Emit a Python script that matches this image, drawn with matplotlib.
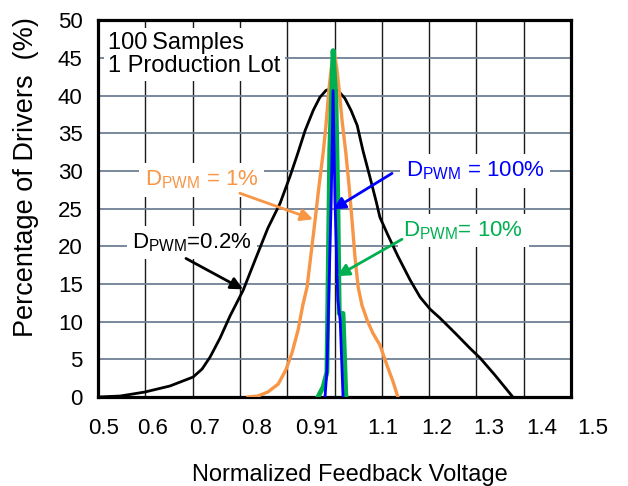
import matplotlib
matplotlib.use('Agg')
import matplotlib.pyplot as plt
import numpy as np
from matplotlib.transforms import blended_transform_factory

plt.rcParams['font.family'] = ['Liberation Sans', 'DejaVu Sans']
plt.rcParams['mathtext.fontset'] = 'custom'
plt.rcParams['mathtext.rm'] = 'Liberation Sans'
plt.rcParams['mathtext.it'] = 'Liberation Sans:italic'
plt.rcParams['mathtext.bf'] = 'Liberation Sans:bold'

# ---------------- data ----------------
x_ticks = [0.5, 0.6, 0.7, 0.8, 0.9, 1.0, 1.1, 1.2, 1.3, 1.4, 1.5]
x_tick_labels = ['0.5', '0.6', '0.7', '0.8', '0.91', '1.1', '1.2', '1.3', '1.4', '1.5']
y_ticks = [0, 5, 10, 15, 20, 25, 30, 35, 40, 45, 50]

d02_x = [0.500, 0.547, 0.599, 0.652, 0.701, 0.720, 0.737, 0.758, 0.779, 0.807, 0.832,
         0.859, 0.885, 0.906, 0.921, 0.938, 0.955, 0.969, 0.982, 0.995, 1.007, 1.022,
         1.035, 1.048, 1.060, 1.075, 1.088, 1.096, 1.113, 1.134, 1.160, 1.181, 1.202,
         1.223, 1.255, 1.286, 1.308, 1.339, 1.377]
d02_y = [0.0, 0.13, 0.66, 1.46, 2.65, 3.71, 5.31, 7.82, 10.74, 14.19, 18.17,
         22.41, 25.73, 29.31, 32.10, 35.41, 38.06, 39.79, 40.72, 40.98, 40.72, 39.66,
         38.06, 36.07, 32.76, 29.18, 25.99, 23.87, 21.49, 18.70, 15.52, 13.26, 11.67,
         10.48, 8.49, 6.50, 5.17, 2.92, 0.0]

d1_x = [0.817, 0.838, 0.859, 0.881, 0.897, 0.910, 0.923, 0.933, 0.942, 0.950, 0.959,
        0.967, 0.976, 0.982, 0.988, 0.993, 0.999, 1.005, 1.010, 1.016, 1.024, 1.031,
        1.037, 1.043, 1.050, 1.058, 1.069, 1.081, 1.096, 1.111, 1.124, 1.134]
d1_y = [0.0, 0.13, 0.66, 1.72, 3.58, 5.84, 8.89, 12.2, 14.6, 18.8, 23.5,
        27.9, 32.4, 36.1, 40.7, 43.6, 46.0, 43.6, 40.7, 36.7, 32.4, 27.9,
        23.5, 18.8, 14.6, 12.2, 10.2, 8.5, 6.9, 4.2, 2.0, 0.0]

d10_x = [0.965, 0.976, 0.984, 0.986, 0.990, 0.995, 0.997, 1.003, 1.007, 1.010, 1.018, 1.024]
d10_y = [0.0, 1.33, 3.3, 12.9, 32.8, 42.0, 46.0, 39.4, 26.1, 11.1, 11.1, 0.0]

d100_x = [0.980, 0.984, 0.993, 0.997, 1.001, 1.007, 1.012, 1.018]
d100_y = [0.0, 3.6, 26.1, 40.7, 26.1, 12.9, 10.2, 0.0]

# ---------------- figure ----------------
fig = plt.figure(figsize=(6.28, 4.86), dpi=100)
ax = fig.add_axes([98/628, 1-397/486, 473/628, 376.5/486])
ax.set_xlim(0.5, 1.5)
ax.set_ylim(0, 50)

ax.set_xticks(x_ticks)
ax.set_xticklabels([])
ax.set_yticks(y_ticks)
ax.set_yticklabels([str(v) for v in y_ticks], fontsize=16)
ax.tick_params(axis='both', length=0)
ax.tick_params(axis='y', pad=11)

ax.grid(axis='x', color='#1a1a1a', lw=1.0, zorder=0)
ax.grid(axis='y', color='#6f7f95', lw=1.3, zorder=0)
ax.set_axisbelow(True)
for s in ax.spines.values():
    s.set_linewidth(2.3)
    s.set_color('black')

# x tick labels (placed as in reference, slightly off the gridlines)
lab_pos = [0.511, 0.616, 0.726, 0.836, 0.963, 1.1025, 1.217, 1.327, 1.439, 1.547]
tr = blended_transform_factory(ax.transData, ax.transAxes)
for p, t in zip(lab_pos, x_tick_labels):
    ax.text(p, -0.083, t, transform=tr, ha='center', va='center', fontsize=16, clip_on=False)

fig.text(350/628, 1-481/486, 'Normalized Feedback Voltage', ha='center', va='baseline', fontsize=17)
fig.text(26/628, 1-177/486, 'Percentage of Drivers  (%)', rotation=90, ha='center', va='center', fontsize=19.5)

# curves
ax.plot(d02_x, d02_y, color='black', lw=2.0, zorder=4)
ax.plot(d1_x, d1_y, color='#f79646', lw=2.4, zorder=4)
ax.plot(d10_x, d10_y, color='#00b050', lw=3.5, zorder=5)
ax.plot(d100_x, d100_y, color='#0000ff', lw=2.0, zorder=6)

# info text
ax.text(0.521, 43.15, '100\u2009Samples\n1 Production Lot', fontsize=17, va='baseline', ha='left',
        linespacing=1.05, zorder=3,
        bbox=dict(facecolor='white', edgecolor='none', pad=3))

# annotations
bb = dict(facecolor='white', edgecolor='none', pad=4)
fs = 16
ax.text(0.599, 28.1, 'D$_{\\mathrm{PWM}}$ = 1%', color='#f79646', fontsize=fs, va='baseline', zorder=3, bbox=bb)
ax.text(0.572, 19.76, 'D$_{\\mathrm{PWM}}$=0.2%', color='black', fontsize=fs, va='baseline', zorder=3, bbox=bb)
ax.text(1.151, 29.3, 'D$_{\\mathrm{PWM}}$ = 100%', color='#0000ff', fontsize=fs, va='baseline', zorder=3, bbox=bb)
ax.text(1.145, 21.35, 'D$_{\\mathrm{PWM}}$= 10%', color='#00b050', fontsize=fs, va='baseline', zorder=3, bbox=bb)

def arrow(tail, tip, c):
    ax.annotate('', xy=tip, xytext=tail,
                arrowprops=dict(arrowstyle='-|>', color=c, lw=2.0, mutation_scale=18,
                                shrinkA=0, shrinkB=0), zorder=7)

arrow((0.800, 27.06), (0.9545, 23.6), '#f79646')
arrow((0.686, 18.4), (0.8066, 14.3), 'black')
arrow((1.1216, 29.7), (0.9968, 24.9), '#0000ff')
arrow((1.1427, 20.95), (1.0053, 16.05), '#00b050')

fig.savefig('out.png', dpi=100)
